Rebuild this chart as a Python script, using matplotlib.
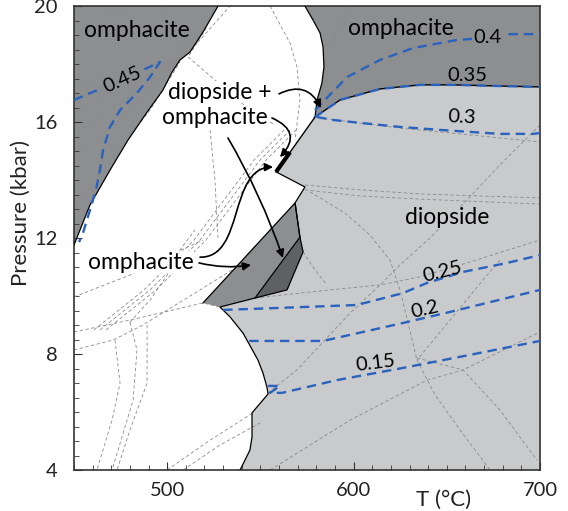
import matplotlib.pyplot as plt
from matplotlib.ticker import MultipleLocator
from matplotlib.patches import FancyArrowPatch
from matplotlib.path import Path

plt.rcParams['font.family'] = ['Lato', 'DejaVu Sans']

# colours of the fields
OMPH = '#8d8e90'
DIOP = '#c9cacb'
DARK = '#5f6062'
BLUE = '#2962bf'
GRID = '#8a8a8a'

# --- field boundaries, T in degC, P in kbar ---
# white / omphacite (upper left)
ul_T = [450, 458.6, 469.3, 479.0, 489.2, 497.7, 502.6, 506.9, 512.2, 519.2, 527.3]
ul_P = [11.76, 13.14, 14.34, 15.38, 16.34, 17.10, 17.72, 18.14, 18.41, 19.10, 20]

# white / omphacite (upper right)
ur_T = [573.9, 578.2, 582.0, 583.6, 584.1, 583.0, 580.4, 579.3]
ur_P = [20, 19.52, 19.07, 18.59, 17.90, 17.34, 16.76, 16.17]

# omphacite / diopside, also the 0.35 isopleth
top_T = [579.3, 592.7, 614.2, 635.6, 653.3, 678.5, 700]
top_P = [16.17, 16.76, 17.14, 17.28, 17.28, 17.24, 17.21]

# diopside field, left side from the notch tip down to 4 kbar
dl_T = [558.4, 573.9, 568.6, 571.2, 572.9, 564.3, 547.1, 528.3, 533.7, 540.7,
        548.7, 551.4, 553.5, 554.1, 545.5, 545.5, 544.4, 539.1]
dl_P = [14.28, 13.76, 13.21, 12.03, 11.52, 10.21, 9.93, 9.62, 9.28, 8.72,
        7.79, 7.34, 6.86, 6.62, 5.97, 5.14, 4.69, 4.0]

# small omphacite fields in the middle
med_T = [519.2, 568.6, 571.2, 547.1, 528.3]
med_P = [9.76, 13.21, 12.03, 9.93, 9.62]
dk_T = [547.1, 571.2, 572.9, 564.3]
dk_P = [9.93, 12.03, 11.52, 10.21]

# narrow diopside + omphacite field
notch_T = [558.4, 565.9]
notch_P = [14.28, 14.96]

# --- jadeite isopleths (dashed blue) ---
iso45_T = [450, 463.9, 487.0, 496.1, 490.8, 483.8, 474.7, 469.3, 465.6, 463.9, 461.8, 458.6, 454.8, 452.7]
iso45_P = [16.76, 17.14, 17.79, 18.07, 17.55, 17.0, 16.41, 15.83, 15.03, 14.34, 13.66, 12.97, 12.17, 11.86]
iso40_T = [579.3, 596.5, 614.2, 631.9, 655.5, 672.1, 683.9, 700]
iso40_P = [16.41, 17.55, 18.14, 18.55, 18.83, 18.90, 19.03, 19.03]
iso30_T = [580.4, 588.9, 603.4, 624.9, 648.0, 678.5, 696.2, 700]
iso30_P = [16.17, 16.07, 15.97, 15.83, 15.72, 15.59, 15.59, 15.62]
iso25_T = [530.0, 560.5, 601.8, 626.5, 639.4, 658.7, 682.3, 700]
iso25_P = [9.52, 9.59, 9.69, 10.10, 10.45, 10.83, 11.14, 11.41]
iso20_T = [544.0, 583.6, 626.5, 651.7, 700]
iso20_P = [8.45, 8.45, 9.07, 9.45, 10.21]
iso15_T = [554.1, 560.5, 555.2, 561.6, 591.1, 626.5, 662.4, 700]
iso15_P = [6.90, 6.90, 6.66, 6.66, 7.10, 7.52, 7.97, 8.45]

iso_text = ['0.45', '0.4', '0.35', '0.3', '0.25', '0.2', '0.15']
iso_lab_T = [475.8, 672.1, 660.8, 658.2, 647.4, 638.3, 611.5]
iso_lab_P = [17.45, 18.90, 17.62, 16.17, 10.83, 9.55, 7.69]
iso_lab_rot = [24, 0, 0, -3, 14, 13, 7]
iso_lab_bg = [OMPH, OMPH, None, None, None, None, None]

# --- other reaction lines of the pseudosection (thin grey dashes) ---
grey_lines = [
    ([573.9, 603.4, 635.6, 700], [13.83, 13.66, 13.52, 13.38]),
    ([573.9, 603.4, 635.6, 700], [13.66, 13.45, 13.34, 13.17]),
    ([578.2, 624.9, 667.8, 700], [16.17, 15.79, 15.52, 15.31]),
    ([700, 678.5, 660.8, 641.0, 624.9, 614.2, 598.1, 583.6, 569.6, 554.1],
     [15.9, 14.52, 13.31, 12.0, 11.07, 10.38, 9.41, 8.41, 7.45, 6.66]),
    ([576.6, 595.4, 608.8, 619.5, 624.9, 634.0, 643.7, 657.1, 673.2],
     [13.59, 12.86, 12.10, 11.24, 10.21, 7.79, 6.59, 5.38, 4.0]),
    ([555.2, 598.1, 639.4, 658.7, 700], [4.0, 5.72, 7.10, 7.45, 8.76]),
    ([634.0, 658.7, 678.5, 698.4], [7.86, 7.45, 6.07, 4.34]),
    ([547.1, 587.3, 614.2, 635.6, 660.8, 700], [9.93, 10.21, 10.38, 10.66, 11.14, 11.93]),
    ([572.9, 579.3, 585.7], [11.52, 10.90, 10.38]),
    ([678.5, 669.4, 651.7, 634.0], [11.24, 10.55, 9.17, 7.79]),
    ([597.0, 590.0, 584.7], [20, 19.0, 18.31]),
    ([450, 480.0, 506.9], [17.28, 17.72, 18.21]),
    ([450, 480.0, 506.9], [16.31, 17.28, 18.21]),
    ([450, 477.4, 506.9], [15.55, 16.76, 18.21]),
    ([450, 480.0, 506.9], [14.69, 16.41, 18.21]),
    ([450, 469.3, 490.8, 506.9], [12.97, 14.69, 16.41, 18.07]),
    ([506.9, 517.6, 533.7], [18.21, 18.83, 20]),
    ([463.9, 490.8, 512.2], [20, 19.34, 18.55]),
    ([496.1, 501.5, 507.9], [20, 19.17, 18.31]),
    ([555.2, 565.9, 569.6, 571.2, 568.6], [20, 18.72, 17.90, 16.76, 15.38]),
    ([525.6, 520.3, 511.2], [20, 19.17, 18.24]),
    ([511.2, 525.6, 544.4, 557.8], [18.24, 17.45, 16.41, 15.90]),
    ([463.9, 490.8, 517.6, 533.7, 549.8, 565.9], [8.83, 10.21, 11.93, 13.31, 14.69, 15.72]),
    ([467.2, 494.0, 520.8, 536.9, 553.0, 569.1], [8.83, 10.21, 11.93, 13.31, 14.69, 15.72]),
    ([460.7, 487.6, 514.4, 530.5, 546.6, 562.7], [8.83, 10.21, 11.93, 13.31, 14.69, 15.72]),
    ([450, 480.0, 501.5, 519.2], [9.97, 10.72, 11.41, 11.93]),
    ([450, 480.0, 519.2, 528.3], [8.76, 9.17, 9.76, 9.62]),
    ([450, 470.9, 487.0, 517.6, 539.1], [8.14, 8.48, 9.0, 10.21, 11.07]),
    ([472.0, 474.7, 470.4, 462.3], [8.48, 7.0, 5.72, 4.0]),
    ([480.0, 483.8, 481.7, 470.4], [9.10, 8.14, 6.41, 4.0]),
    ([489.2, 489.2, 480.0, 473.1], [9.0, 7.0, 5.38, 4.0]),
    ([499.9, 523.0, 546.0], [4.0, 5.03, 5.97]),
    ([508.5, 528.3, 549.8], [4.0, 4.86, 5.62]),
    ([480.0, 490.8, 499.9, 506.9, 514.9], [9.10, 9.86, 10.72, 11.59, 12.28]),
    ([523.0, 525.6, 527.3], [15.72, 14.0, 11.93]),
]

# field names
field_text = ['omphacite', 'omphacite', 'diopside +', 'omphacite', 'omphacite', 'diopside']
field_T = [483.8, 625.4, 528.3, 525.6, 485.9, 650.1]
field_P = [19.17, 19.24, 17.03, 16.14, 11.17, 12.69]
field_bg = [OMPH, OMPH, 'white', 'white', 'white', DIOP]

fig = plt.figure(figsize=(5.68, 5.11), dpi=100)
ax = fig.add_axes([74 / 568, 1 - 470 / 511, 466 / 568, 464 / 511])

# fields
ax.fill(ul_T + [450], ul_P + [20], color=OMPH, lw=0, zorder=1)
ax.fill(ur_T + top_T + [700], ur_P + top_P + [20], color=OMPH, lw=0, zorder=1)
ax.fill([558.4] + top_T + [700] + dl_T[::-1], [14.28] + top_P + [4] + dl_P[::-1],
        color=DIOP, lw=0, zorder=1)
ax.fill(med_T, med_P, color=OMPH, lw=0, zorder=1)
ax.fill(dk_T, dk_P, color=DARK, lw=0, zorder=1)

for gT, gP in grey_lines:
    ax.plot(gT, gP, color=GRID, lw=0.6, ls=(0, (4, 3)), zorder=2)

# field boundaries
ax.plot(ul_T, ul_P, color='k', lw=0.9, zorder=3)
ax.plot(ur_T, ur_P, color='k', lw=0.9, zorder=3)
ax.plot([558.4] + top_T, [14.28] + top_P, color='k', lw=1.0, zorder=3)
ax.plot(dl_T, dl_P, color='k', lw=0.9, zorder=3)
ax.plot(med_T[:3], med_P[:3], color='k', lw=0.9, zorder=3)
ax.plot(dk_T[:2], dk_P[:2], color='k', lw=0.9, zorder=3)
ax.plot(notch_T, notch_P, color='k', lw=3, solid_capstyle='butt', zorder=3)

# isopleths
blue_kw = dict(color=BLUE, lw=1.7, ls=(0, (4, 2.5)), zorder=4)
for iT, iP in [(iso45_T, iso45_P), (iso40_T, iso40_P), (top_T, top_P), (iso30_T, iso30_P),
               (iso25_T, iso25_P), (iso20_T, iso20_P), (iso15_T, iso15_P)]:
    ax.plot(iT, iP, **blue_kw)

for s, t, p, r, bg in zip(iso_text, iso_lab_T, iso_lab_P, iso_lab_rot, iso_lab_bg):
    box = dict(facecolor=bg, edgecolor='none', pad=1) if bg else None
    ax.text(t, p, s, fontsize=14.5, rotation=r, ha='center', va='center',
            rotation_mode='anchor', bbox=box, zorder=6)

for s, t, p, bg in zip(field_text, field_T, field_P, field_bg):
    ax.text(t, p, s, fontsize=16.5, ha='center', va='center',
            bbox=dict(facecolor=bg, edgecolor='none', pad=0.5), zorder=6)

# pointers
arrow_kw = dict(arrowstyle='-|>', color='k', lw=1.2, mutation_scale=12)
for start, end, rad in [((560.0, 16.97), (582.5, 16.48), -0.5),
                        ((556.2, 16.14), (560.5, 14.79), -0.7),
                        ((532.6, 15.45), (562.1, 11.31), -0.05),
                        ((517.1, 11.14), (545.0, 11.07), 0.1)]:
    ax.annotate('', xy=end, xytext=start, zorder=7,
                arrowprops=dict(connectionstyle='arc3,rad=%s' % rad, shrinkA=0, shrinkB=0, **arrow_kw))
s_curve = Path([(517.6, 11.34), (541.7, 11.31), (532.6, 14.41), (556.8, 14.45)],
               [Path.MOVETO, Path.CURVE4, Path.CURVE4, Path.CURVE4])
ax.add_patch(FancyArrowPatch(path=s_curve, zorder=7, **arrow_kw))

ax.set_xlim(450, 700)
ax.set_ylim(4, 20)
ax.set_xticks([500, 600, 700])
ax.set_yticks([4, 8, 12, 16, 20])
ax.xaxis.set_minor_locator(MultipleLocator(10))
ax.yaxis.set_minor_locator(MultipleLocator(0.5))
ax.tick_params(which='both', direction='in', top=False, right=False, colors='#333333')
ax.tick_params(which='major', length=6, labelsize=14.5, labelcolor='#222222')
ax.tick_params(which='minor', length=3.5)
ax.tick_params(axis='x', pad=9)
ax.tick_params(axis='y', pad=12)
for sp in ax.spines.values():
    sp.set_color('#333333')
    sp.set_linewidth(1.2)

ax.set_xlabel('T (°C)', fontsize=16, color='#222222')
ax.xaxis.set_label_coords(0.792, -0.043)
ax.set_ylabel('Pressure (kbar)', fontsize=16, color='#222222')
ax.yaxis.set_label_coords(-0.092, 0.554)

fig.savefig('out.png', dpi=100)
